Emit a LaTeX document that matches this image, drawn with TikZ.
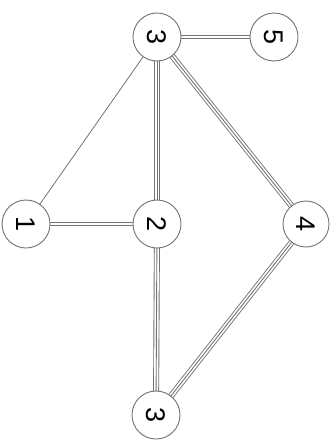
\documentclass[tikz,border=0pt]{standalone}
\usepackage{fontspec}
\setmainfont{Liberation Sans}
\begin{document}
\begin{tikzpicture}[x=1pt,y=-1pt,
  vtx/.style={circle,draw=black!55,line width=0.9pt,fill=white,minimum size=48pt,inner sep=0pt,font=\fontsize{27}{27}\selectfont,rotate=-90},
  single/.style={draw=black!55,line width=0.8pt},
  dbl/.style={draw=black!55,line width=0.9pt,double=white,double distance=2.2pt},
  trpl/.style={draw=black!55,line width=0.9pt,double=white,double distance=4.2pt,
    postaction={draw=black!55,line width=0.9pt}}]
\useasboundingbox (0,0) rectangle (335,442);
\fill[white] (0,0) rectangle (335,442);
\coordinate (pa) at (157,37);
\coordinate (pb) at (274,37);
\coordinate (pc) at (26,224);
\coordinate (pd) at (157,224);
\coordinate (pe) at (306,224);
\coordinate (pf) at (156,415);
\draw[single] (pa) -- (pc);
\draw[dbl] (pa) -- (pb);
\draw[dbl] (pc) -- (pd);
\draw[trpl] (pa) -- (pd);
\draw[trpl] (pd) -- (pf);
\draw[trpl] (pa) -- (pe);
\draw[trpl] (pe) -- (pf);
\node[vtx] (a) at (pa) {3};
\node[vtx] (b) at (pb) {5};
\node[vtx] (c) at (pc) {1};
\node[vtx] (d) at (pd) {2};
\node[vtx,minimum size=46pt] (e) at (pe) {4};
\node[vtx] (f) at (pf) {3};
\end{tikzpicture}
\end{document}
